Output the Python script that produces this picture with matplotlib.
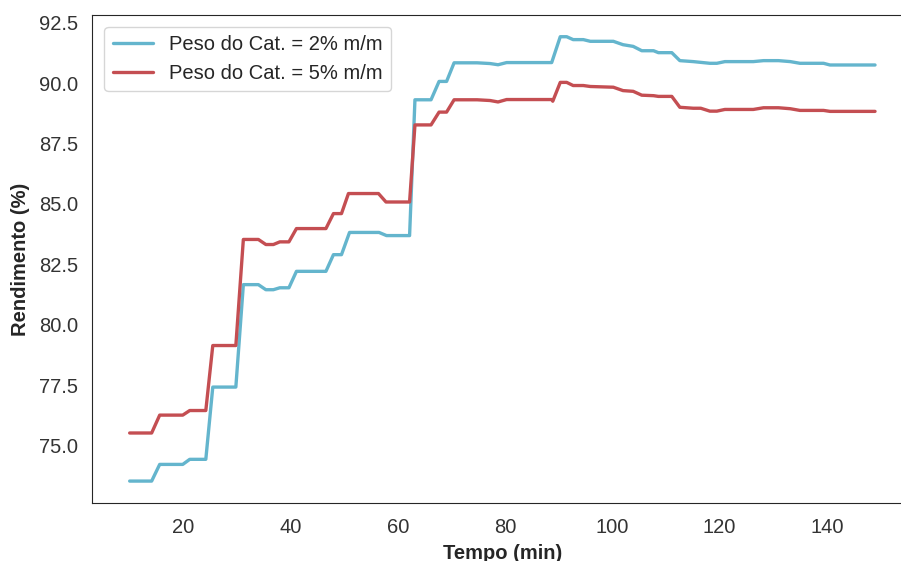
import matplotlib
matplotlib.use("Agg")
import matplotlib.pyplot as plt
import seaborn as sns

# step-like yield curves (time in min, yield in %)
tempo_2 = [10, 14.1, 15.6, 19.9, 21.2, 24.2, 25.5, 29.8, 31.2, 34.0, 35.4, 36.8,
           38.0, 39.7, 41.1, 46.6, 48.0, 49.5, 51.0, 56.5, 57.9, 62.2, 63.2, 66.2,
           67.7, 69.1, 70.5, 74.8, 77.2, 78.7, 80.3, 88.7, 90.3, 91.5, 92.7, 94.6,
           95.9, 100.2, 102.0, 103.9, 105.5, 107.7, 108.6, 111.1, 112.6, 115.1,
           118.2, 119.5, 121.0, 126.3, 128.2, 131.0, 133.2, 135.0, 139.4, 140.6, 149]
rend_2 = [73.53, 73.53, 74.22, 74.22, 74.43, 74.43, 77.42, 77.42, 81.66, 81.66, 81.45, 81.45,
          81.53, 81.53, 82.21, 82.21, 82.90, 82.90, 83.82, 83.82, 83.69, 83.69, 89.31, 89.31,
          90.07, 90.07, 90.84, 90.84, 90.81, 90.76, 90.85, 90.85, 91.92, 91.92, 91.80, 91.80,
          91.73, 91.73, 91.59, 91.52, 91.34, 91.34, 91.26, 91.26, 90.93, 90.89,
          90.82, 90.82, 90.89, 90.89, 90.93, 90.93, 90.89, 90.82, 90.82, 90.75, 90.75]

tempo_5 = [10, 14.1, 15.6, 19.9, 21.2, 24.2, 25.5, 29.8, 31.2, 34.0, 35.4, 36.8,
           38.0, 39.7, 41.1, 46.6, 48.0, 49.5, 50.8, 56.4, 57.8, 62.2, 63.2, 66.2,
           67.7, 69.1, 70.5, 74.8, 77.2, 78.7, 80.3, 88.7, 88.9, 90.3, 91.5, 92.7, 94.6,
           95.9, 100.2, 102.0, 103.9, 105.5, 107.7, 108.6, 111.1, 112.6, 115.1, 116.5,
           118.2, 119.5, 121.0, 126.3, 128.2, 131.0, 133.2, 135.0, 139.4, 140.6, 149]
rend_5 = [75.52, 75.52, 76.26, 76.26, 76.45, 76.45, 79.14, 79.14, 83.53, 83.53, 83.32, 83.32,
          83.43, 83.43, 83.98, 83.98, 84.60, 84.60, 85.43, 85.43, 85.08, 85.08, 88.27, 88.27,
          88.80, 88.80, 89.31, 89.31, 89.28, 89.22, 89.32, 89.32, 89.25, 90.03, 90.03, 89.90, 89.90,
          89.86, 89.83, 89.69, 89.66, 89.50, 89.48, 89.45, 89.45, 89.00, 88.96, 88.96,
          88.84, 88.84, 88.91, 88.91, 88.98, 88.98, 88.94, 88.87, 88.87, 88.83, 88.83]

labels = ["Peso do Cat. = 2% m/m", "Peso do Cat. = 5% m/m"]

sns.set_style("white")
sns.set_color_codes()
plt.rcParams["font.family"] = ["Liberation Sans", "DejaVu Sans"]

fig = plt.figure(figsize=(9.01, 5.61), dpi=100)
ax = fig.add_axes([92.4 / 901, 57.7 / 561, 819.9 / 901, 488.8 / 561])

ax.plot(tempo_2, rend_2, color="c", lw=2.4, label=labels[0])
ax.plot(tempo_5, rend_5, color="r", lw=2.4, label=labels[1])

ax.set_xlabel("Tempo (min)", fontsize=14.5, fontweight="bold", color=".15", labelpad=5)
ax.set_ylabel("Rendimento (%)", fontsize=14.5, fontweight="bold", color=".15", labelpad=6)
ax.tick_params(labelsize=14.5, pad=7, colors=".2")
ax.legend(loc="upper left", fontsize=14.5, borderaxespad=0.6)

fig.savefig("out.png", dpi=100)
